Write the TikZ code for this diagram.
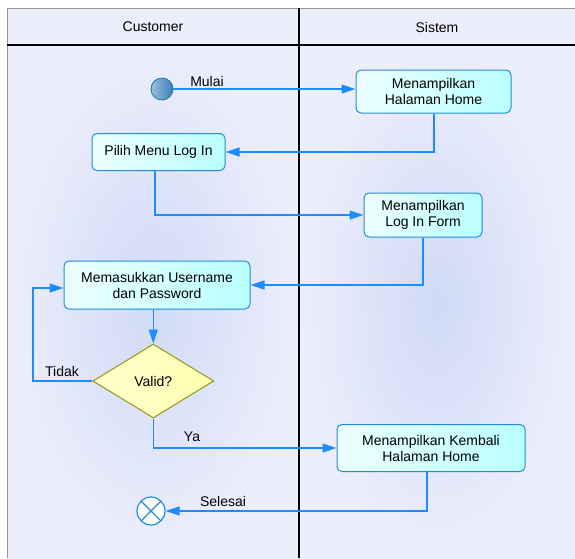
\documentclass[tikz,border=0pt]{standalone}
\usepackage{fontspec}
\setmainfont{Liberation Sans}
\usetikzlibrary{arrows.meta,shapes.geometric,positioning,calc}
\definecolor{lanebg}{RGB}{236,238,252}
\definecolor{lanemid}{RGB}{208,218,245}
\definecolor{headbg}{RGB}{236,238,252}
\definecolor{frameg}{RGB}{150,150,150}
\definecolor{actline}{RGB}{36,140,215}
\definecolor{actfill}{RGB}{185,255,255}
\definecolor{flowc}{RGB}{30,140,255}
\definecolor{decline}{RGB}{150,150,20}
\definecolor{decfill}{RGB}{255,255,175}
\definecolor{startl}{RGB}{30,110,170}
\definecolor{startf}{RGB}{70,140,200}
\newcommand\dfont{\fontsize{14}{16}\selectfont}
\tikzset{
  activity/.style={draw=actline,line width=1pt,rounded corners=5pt,
    left color=actfill!25,right color=actfill,align=center,font=\dfont,
    inner sep=0pt},
  decision/.style={diamond,draw=decline,line width=1pt,
    left color=decfill!60,right color=decfill,font=\dfont,
    inner sep=0pt,aspect=1.64},
  startpt/.style={circle,draw=startl,line width=0.8pt,
    left color=startf!55,right color=startf!90!black,
    minimum size=22pt,inner sep=0pt},
  stoppt/.style={circle,draw=actline,line width=1.2pt,fill=white,
    minimum size=28pt,inner sep=0pt,
    path picture={\draw[actline,line width=1.2pt]
      (path picture bounding box.north west)--(path picture bounding box.south east)
      (path picture bounding box.north east)--(path picture bounding box.south west);}},
  flow/.style={draw=flowc,line width=1.2pt,-{Triangle[length=14pt,width=9pt]}},
  guard/.style={font=\dfont,anchor=base,inner sep=0pt},
  lanehead/.style={font=\dfont}
}
\newcommand\Lane[2]{%
  \shade[inner color=lanemid,outer color=lanebg] (#1,45) rectangle (#2,558);
}
\begin{document}
\begin{tikzpicture}[x=1pt,y=-1pt]
\useasboundingbox (0,0) rectangle (575,558);
% swimlanes
\fill[lanebg] (7,8) rectangle (575,558);
\Lane{7}{299}
\Lane{299}{575}
\fill[headbg] (7,8) rectangle (575,45);
\draw[frameg,line width=1pt] (7,558) -- (7,8) -- (575,8);
\draw[line width=1.2pt] (7,45) -- (575,45);
\draw[line width=1.2pt] (299,8) -- (299,558);
\node[lanehead] (hcust) at (153,27) {Customer};
\node[lanehead] (hsis) at (437,27) {Sistem};

% actions
\node[startpt] (start) at (162,89) {};
\node[activity,minimum width=155pt,minimum height=43pt] (home) at (433.5,91.5) {Menampilkan\\Halaman Home};
\node[activity,minimum width=133pt,minimum height=37pt] (menu) at (158.5,152) {Pilih Menu Log In};
\node[activity,minimum width=118pt,minimum height=44pt] (form) at (423,215) {Menampilkan\\Log In Form};
\node[activity,minimum width=186pt,minimum height=48pt] (input) at (157,285) {Memasukkan Username\\dan Password};
\node[decision,minimum width=121pt,minimum height=74pt] (valid) at (153.3,381) {Valid?};
\node[activity,minimum width=188pt,minimum height=47pt] (back) at (431,448) {Menampilkan Kembali\\Halaman Home};
\node[stoppt] (stop) at (151,511) {};
\coordinate (loop) at (33,381);

% flows
\draw[flow] (start) -- (start -| home.west);
\draw[flow] ([xshift=0.5pt]home.south) |- (menu.east);
\draw[flow] ([xshift=-3.5pt]menu.south) |- (form.west);
\draw[flow] (form.south) |- (input.east);
\draw[flow] (valid.north |- input.south) -- (valid.north);
\draw[flow] (valid.west) -- (loop) |- ([yshift=-3pt]input.west);
\draw[flow] (valid.south) |- (back.west);
\draw[flow] ([xshift=-4pt]back.south) |- (stop.east);

% guards
\node[guard] (lmulai) at (207,86.7) {Mulai};
\node[guard] (ltidak) at (62,376) {Tidak};
\node[guard] (lya) at (192,441.3) {Ya};
\node[guard] (lselesai) at (223,506) {Selesai};
\end{tikzpicture}
\end{document}
